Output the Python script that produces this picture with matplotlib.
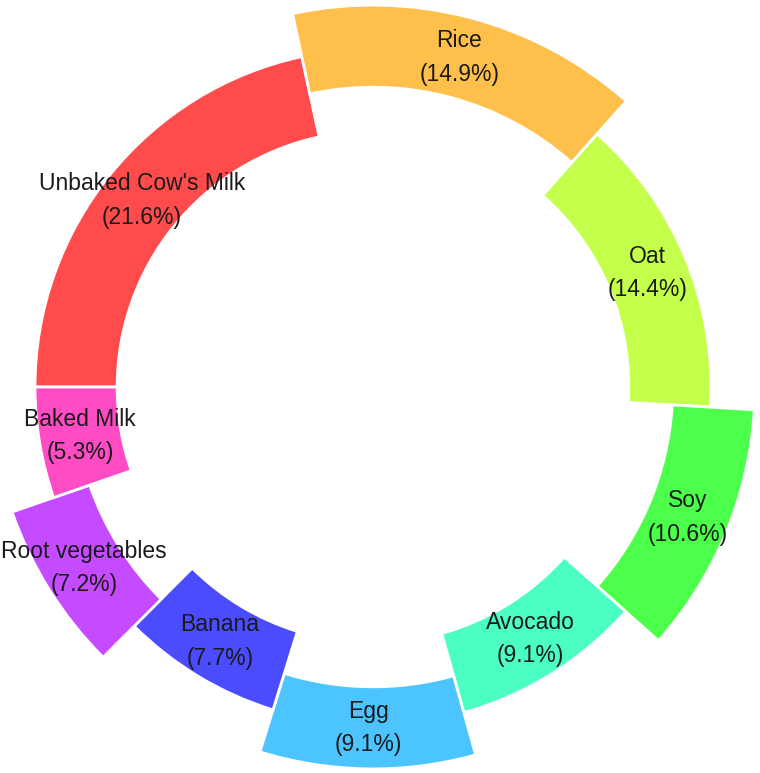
import matplotlib.pyplot as plt
import numpy as np

# allergen shares (sorted high -> low, drawn clockwise from 9 o'clock)
names = ["Unbaked Cow's Milk", "Rice", "Oat", "Soy", "Avocado", "Egg",
         "Banana", "Root vegetables", "Baked Milk"]
pct = [21.6, 14.9, 14.4, 10.6, 9.1, 9.1, 7.7, 7.2, 5.3]
colors = ["#ff4b4b", "#ffc04b", "#c4ff4b", "#4bff4b", "#4bffc4",
          "#4bc4ff", "#4b4bff", "#c44bff", "#ff4bc4"]
pull = [0, 0.13, 0, 0.13, 0, 0.13, 0, 0.13, 0]

plt.rcParams["font.family"] = ["Liberation Sans", "DejaVu Sans"]

fig = plt.figure(figsize=(7.6, 7.73), dpi=100)
ax = fig.add_axes([0, 0, 1, 1])

wedges, _ = ax.pie(pct, colors=colors, startangle=180, counterclock=False,
                   radius=1,
                   wedgeprops=dict(width=0.243, edgecolor="white", linewidth=2))

# pulled slices move outward radially, keeping the same angles
for w, p in zip(wedges, pull):
    if p:
        w.set_radius(w.r + p)

# label in the middle of each ring segment
for w, n, p in zip(wedges, names, pct):
    mid = np.deg2rad((w.theta1 + w.theta2) / 2)
    rm = w.r - w.width / 2
    cx, cy = w.center
    ax.text(cx + rm * np.cos(mid), cy + rm * np.sin(mid), f"{n}\n({p}%)",
            ha="center", va="center", fontsize=16.5, linespacing=1.58,
            color="#1a1a1a")

ax.set_xlim(-1.1036, 1.145)
ax.set_ylim(-1.142, 1.145)
ax.set_aspect("equal")
ax.axis("off")

fig.savefig("out.png", dpi=100)
